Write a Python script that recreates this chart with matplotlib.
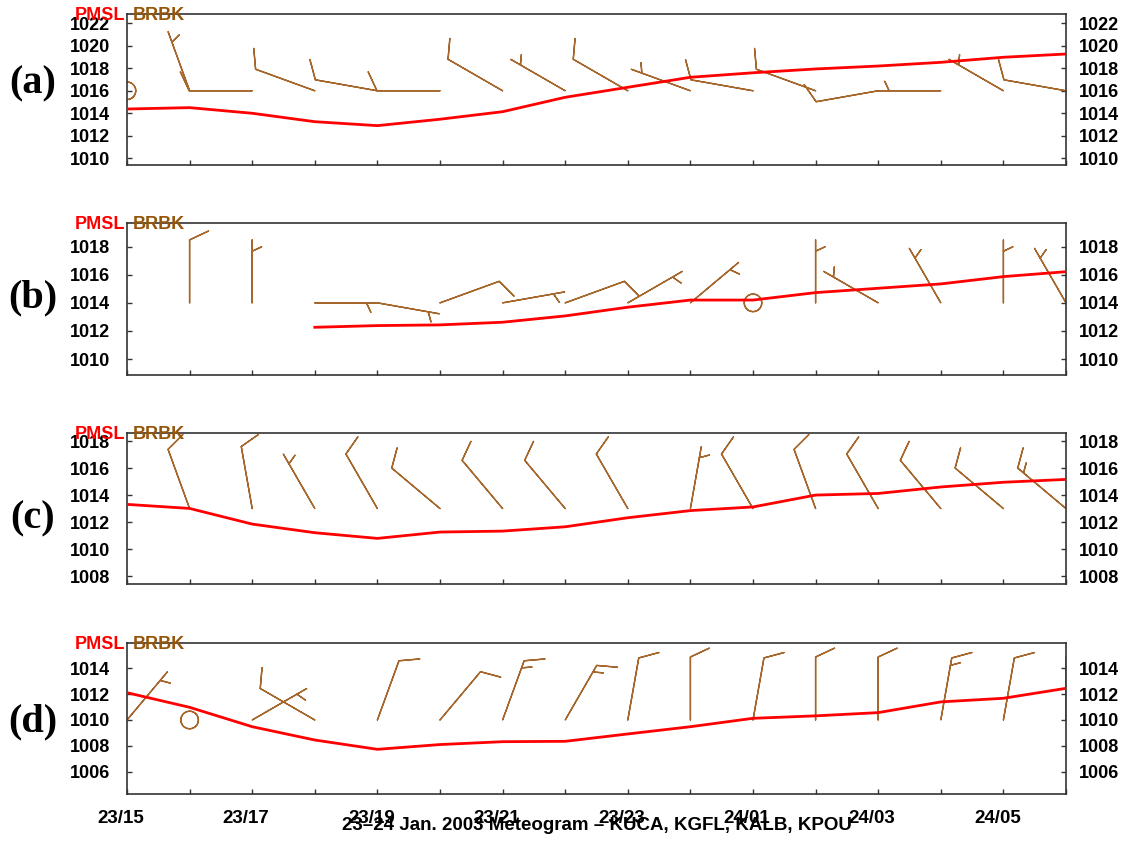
import numpy as np
import matplotlib
matplotlib.use("Agg")
import matplotlib.pyplot as plt
from matplotlib.transforms import ScaledTranslation

# Hours after 23 Jan 2003 00 UTC
hours = np.arange(15, 31)
tick_hours = np.arange(15, 30, 2)
tick_labels = ["23/15", "23/17", "23/19", "23/21", "23/23", "24/01", "24/03", "24/05"]

nan = np.nan

# Mean sea-level pressure (hPa) for each station, hourly 23/15 - 24/06
pmsl_kuca = [1014.38, 1014.5, 1014.0, 1013.25, 1012.9, 1013.47, 1014.14, 1015.42,
             1016.31, 1017.2, 1017.6, 1017.94, 1018.2, 1018.53, 1018.98, 1019.27]
pmsl_kgfl = [nan, nan, nan, 1012.26, 1012.38, 1012.43, 1012.62, 1013.07,
             1013.69, 1014.2, 1014.2, 1014.73, 1015.04, 1015.35, 1015.87, 1016.22]
pmsl_kalb = [1013.31, 1013.01, 1011.85, 1011.21, 1010.79, 1011.26, 1011.33, 1011.65,
             1012.32, 1012.85, 1013.12, 1014.0, 1014.12, 1014.6, 1014.95, 1015.16]
pmsl_kpou = [1012.11, 1010.98, 1009.48, 1008.45, 1007.73, 1008.1, 1008.32, 1008.35,
             1008.92, 1009.48, 1010.13, 1010.32, 1010.57, 1011.4, 1011.68, 1012.45]

# Wind direction (deg, from) and speed (kt)
wdir_kuca = [0, 340, 270, 290, 280, 270, 300, 300, 300, 290, 280, 290, 260, 270, 300, 280]
wspd_kuca = [0, 5, 10, 10, 10, 10, 10, 5, 10, 5, 10, 10, 10, 5, 5, 10]
wdir_kgfl = [nan, 360, 360, 90, 100, 70, 80, 70, 60, 50, 0, 360, 300, 330, 360, 330]
wspd_kgfl = [nan, 10, 5, 5, 5, 10, 5, 10, 5, 5, 0, 5, 5, 5, 5, 5]
wdir_kalb = [nan, 340, 350, 330, 330, 310, 320, 320, 330, 10, 330, 340, 330, 320, 310, 310]
wspd_kalb = [nan, 10, 10, 5, 10, 10, 10, 10, 10, 5, 10, 10, 10, 10, 10, 15]
wdir_kpou = [40, 0, 60, 300, 20, 40, 20, 30, 10, 360, 10, 360, 360, 10, 10, 360]
wspd_kpou = [5, 0, 5, 10, 10, 10, 15, 15, 10, 10, 10, 10, 10, 15, 10, 10]

panel_tags = ["(a)", "(b)", "(c)", "(d)"]
pmsl_sets = [pmsl_kuca, pmsl_kgfl, pmsl_kalb, pmsl_kpou]
wdir_sets = [wdir_kuca, wdir_kgfl, wdir_kalb, wdir_kpou]
wspd_sets = [wspd_kuca, wspd_kgfl, wspd_kalb, wspd_kpou]
barb_level = [1016, 1014, 1013, 1010]
ylims = [(1009.4, 1022.8), (1008.86, 1019.69), (1007.41, 1018.6), (1004.25, 1015.98)]
yticks = [np.arange(1010, 1023, 2), np.arange(1010, 1019, 2),
          np.arange(1008, 1019, 2), np.arange(1006, 1015, 2)]

W, H = 1131, 844
fig = plt.figure(figsize=(W / 100, H / 100), dpi=100)

# axes boxes in pixels: (top, bottom)
boxes = [(14.3, 165.0), (223.0, 375.0), (433.0, 584.0), (642.7, 794.3)]
x_left, x_right = 127.0, 1066.0
tag_y = [83.5, 297.5, 519.0, 721.5]

RED = "#ff0000"
BARB = "#a5672c"
BRBK_TXT = "#96550a"
SPINE = "#333333"
sans = "Liberation Sans"

staff_px = 63.0
barb_len = np.sqrt(2 * staff_px * 72.0 / fig.dpi)

for i in range(4):
    top, bot = boxes[i]
    ax = fig.add_axes([x_left / W, 1 - bot / H, (x_right - x_left) / W, (bot - top) / H])
    ax.set_xlim(15, 30)
    ax.set_ylim(*ylims[i])

    # wind barbs
    d = np.array(wdir_sets[i], dtype=float)
    s = np.array(wspd_sets[i], dtype=float)
    ok = ~np.isnan(d)
    u = -s[ok] * np.sin(np.deg2rad(d[ok]))
    v = -s[ok] * np.cos(np.deg2rad(d[ok]))
    ax.barbs(hours[ok], np.full(ok.sum(), barb_level[i]), u, v,
             length=barb_len, pivot="tip",
             sizes=dict(spacing=0.12, height=0.30, width=0.28, emptybarb=0.14),
             fill_empty=False, barbcolor=BARB, flagcolor=BARB,
             linewidth=1.0, zorder=2)

    # pressure trace
    ax.plot(hours, pmsl_sets[i], color=RED, lw=2.0, zorder=3, solid_joinstyle="round")

    ax.set_xticks(np.arange(15, 31))
    ax.set_yticks(yticks[i])
    ax.set_yticklabels([str(t) for t in yticks[i]])
    ax.tick_params(axis="both", direction="in", length=3.8, width=1.0, color=SPINE)
    ax.tick_params(axis="y", left=True, right=True, labelleft=True, labelright=True,
                   labelsize=13)
    ax.tick_params(axis="y", which="major", pad=12.2)
    for lab in ax.get_yticklabels():
        lab.set_fontfamily(sans)
        lab.set_fontweight("bold")
    # right-hand labels sit closer to the frame
    for tk in ax.yaxis.get_major_ticks():
        tk.label2.set_fontfamily(sans)
        tk.label2.set_fontweight("bold")
        tk.label2.set_fontsize(13)
        tk.label2.set_transform(tk.label2.get_transform() +
                                ScaledTranslation(-4.5 / 100, 0, fig.dpi_scale_trans))
    ax.tick_params(axis="x", top=False, pad=11.0)
    if i == 3:
        ax.set_xticks(tick_hours, labels=tick_labels, minor=False)
        ax.set_xticks(np.arange(15, 31), minor=True)
        ax.tick_params(axis="x", which="minor", direction="in", length=3.8, width=1.0,
                       color=SPINE, top=False)
        shift = ScaledTranslation(-6 / 100, 0, fig.dpi_scale_trans)
        for lab in ax.get_xticklabels():
            lab.set_fontfamily(sans)
            lab.set_fontweight("bold")
            lab.set_fontsize(13.5)
            lab.set_transform(lab.get_transform() + shift)
    else:
        ax.set_xticklabels([])

    for sp in ax.spines.values():
        sp.set_color(SPINE)
        sp.set_linewidth(1.2)

    # parameter legend at the upper-left corner
    ax.annotate("PMSL", xy=(0, 1), xycoords="axes fraction", xytext=(-1.4, -1.2),
                textcoords="offset points", ha="right", va="center", color=RED,
                fontsize=13, fontweight="bold", family=sans, zorder=5, annotation_clip=False)
    ax.annotate("BRBK", xy=(0, 1), xycoords="axes fraction", xytext=(4.3, -1.2),
                textcoords="offset points", ha="left", va="center", color=BRBK_TXT,
                fontsize=13, fontweight="bold", family=sans, zorder=5, annotation_clip=False)

    fig.text(33 / W, 1 - tag_y[i] / H, panel_tags[i], ha="center", va="center",
             fontsize=29, fontweight="bold", family="Liberation Serif")

fig.text((x_left + x_right) / 2 / W, 1 - 826 / H,
         "23\u201324 Jan. 2003 Meteogram \u2013 KUCA, KGFL, KALB, KPOU",
         ha="center", va="center", fontsize=13.5, fontweight="bold", family=sans)

fig.savefig("out.png", dpi=100)
